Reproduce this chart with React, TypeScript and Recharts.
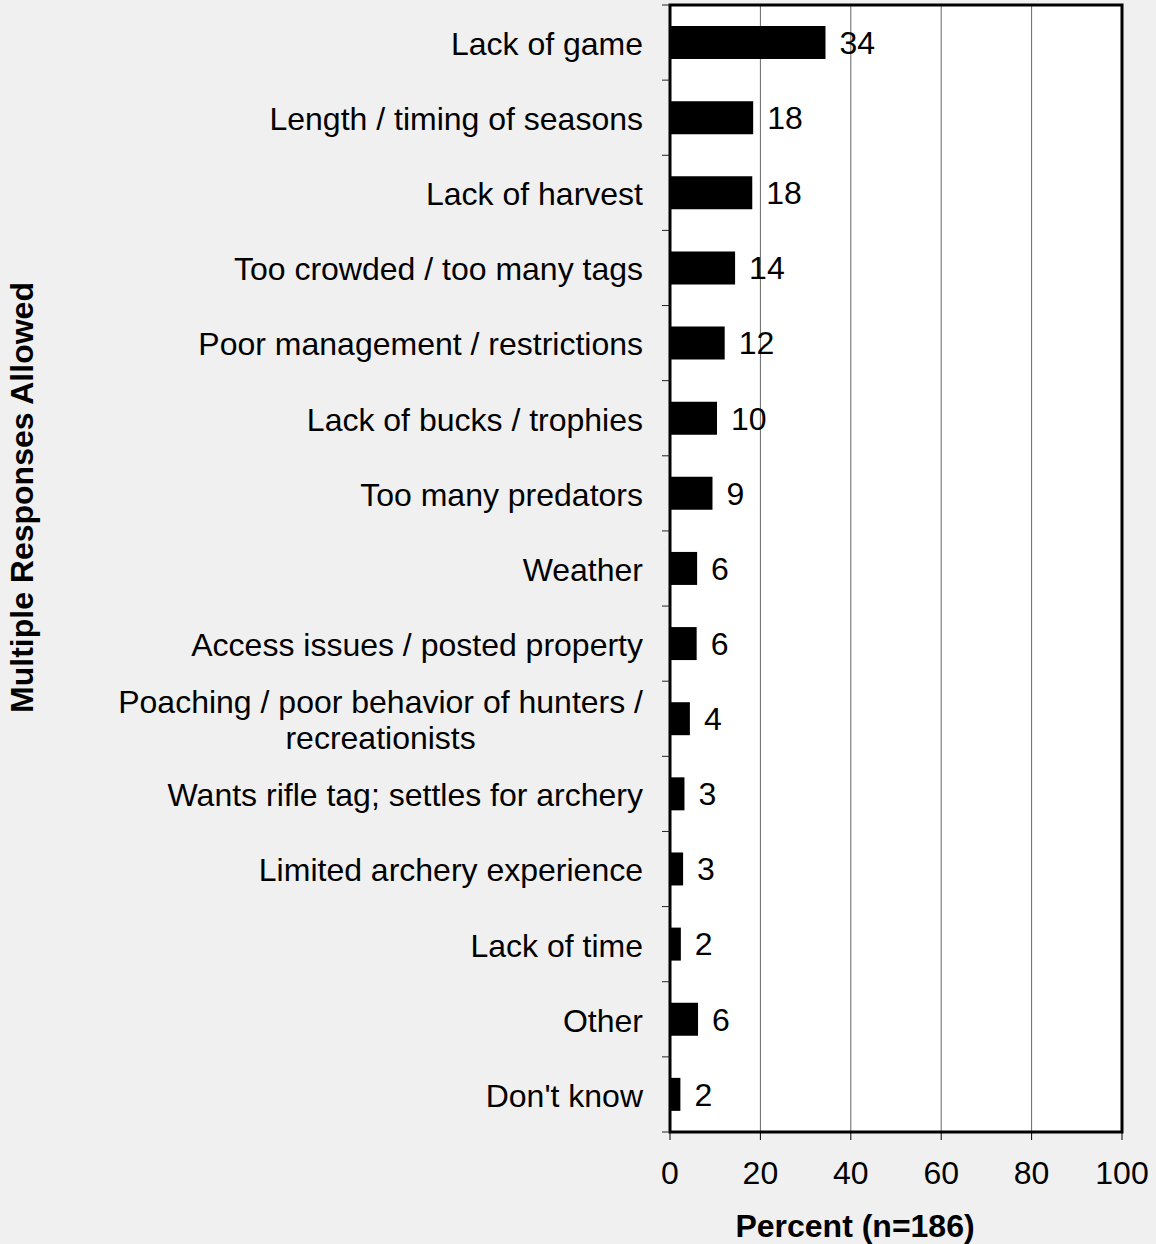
import { BarChart, Bar, XAxis, YAxis, CartesianGrid, LabelList, Label, ReferenceArea } from "recharts";

const categories = [
  "Lack of game",
  "Length / timing of seasons",
  "Lack of harvest",
  "Too crowded / too many tags",
  "Poor management / restrictions",
  "Lack of bucks / trophies",
  "Too many predators",
  "Weather",
  "Access issues / posted property",
  "Poaching / poor behavior of hunters / recreationists",
  "Wants rifle tag; settles for archery",
  "Limited archery experience",
  "Lack of time",
  "Other",
  "Don't know",
];
const percents = [34.4, 18.4, 18.2, 14.4, 12.1, 10.4, 9.4, 6.0, 5.9, 4.4, 3.2, 2.9, 2.4, 6.2, 2.3];
const xTicks = [0, 20, 40, 60, 80, 100];

const data = categories.map((name, i) => ({ name, value: percents[i] }));

const FONT = '"Liberation Sans", Arial, Helvetica, sans-serif';
const FS = 32;
const W = 1156;
const H = 1244;
const MARGIN = { top: 5, right: 34, bottom: 0, left: 0 };
const X_AXIS_H = 112;
const Y_AXIS_W = 670;
const TICK_SIZE = 8;
const TICK_MARGIN = 19;
const PLOT_H = H - MARGIN.top - MARGIN.bottom - X_AXIS_H;
const BAND = PLOT_H / categories.length;

let ctx: CanvasRenderingContext2D | null = null;
const textWidth = (s: string) => {
  if (!ctx) ctx = document.createElement("canvas").getContext("2d");
  if (!ctx) return s.length * FS * 0.5;
  ctx.font = `${FS}px ${FONT}`;
  return ctx.measureText(s).width;
};

const wrap = (label: string, max: number) => {
  const words = label.split(" ");
  const lines: string[] = [];
  let cur = "";
  for (const w of words) {
    const next = cur ? cur + " " + w : w;
    if (cur && textWidth(next) > max) {
      lines.push(cur);
      cur = w;
    } else cur = next;
  }
  if (cur) lines.push(cur);
  return lines;
};

const CategoryTick = (props: any) => {
  const { x, y, payload, index, visibleTicksCount } = props;
  const lines = wrap(String(payload.value), 540);
  const axisX = x + TICK_SIZE + TICK_MARGIN;
  const half = BAND / 2;
  const multi = lines.length > 1;
  const blockW = Math.max(...lines.map(textWidth));
  const tx = multi ? x - blockW / 2 : x;
  return (
    <g>
      <line x1={axisX - TICK_SIZE} x2={axisX} y1={y - half} y2={y - half} stroke="#222" />
      {index === visibleTicksCount - 1 && (
        <line x1={axisX - TICK_SIZE} x2={axisX} y1={y + half} y2={y + half} stroke="#222" />
      )}
      <text
        x={tx}
        y={y + 1}
        textAnchor={multi ? "middle" : "end"}
        fontSize={FS}
        fontFamily={FONT}
        fill="#000"
      >
        {lines.map((l, i) => (
          <tspan key={i} x={tx} dy={i === 0 ? FS * 0.355 - (lines.length - 1) * 18 : 36}>
            {l}
          </tspan>
        ))}
      </text>
    </g>
  );
};

const XTitle = (props: any) => {
  const vb = props.viewBox;
  return (
    <text
      x={vb.x + vb.width / 2 - 41}
      y={vb.y + 105}
      textAnchor="middle"
      fontSize={FS}
      fontWeight="bold"
      fontFamily={FONT}
      fill="#000"
    >
      Percent (n=186)
    </text>
  );
};

const YTitle = (props: any) => {
  const vb = props.viewBox;
  const cx = vb.x + 22;
  const cy = vb.y + vb.height / 2 - 71;
  return (
    <text
      x={cx}
      y={cy}
      transform={`rotate(-90 ${cx} ${cy})`}
      textAnchor="middle"
      dy={FS * 0.355}
      fontSize={FS}
      fontWeight="bold"
      fontFamily={FONT}
      fill="#000"
    >
      Multiple Responses Allowed
    </text>
  );
};

const App = () => (
  <div
    style={{
      position: "absolute",
      left: 0,
      top: 0,
      width: W,
      height: H,
      background: "#f0f0f0",
      fontFamily: FONT,
    }}
  >
    <BarChart width={W} height={H} data={data} layout="vertical" margin={MARGIN}>
      <CartesianGrid horizontal={false} stroke="#666" fill="#fff" fillOpacity={1} />
      <XAxis
        type="number"
        domain={[0, 100]}
        ticks={xTicks}
        height={X_AXIS_H}
        tickSize={TICK_SIZE}
        tickMargin={21}
        tickLine={{ stroke: "#000" }}
        axisLine={{ stroke: "#000", strokeWidth: 2 }}
        tick={{ fontSize: FS, fill: "#000", fontFamily: FONT }}
      >
        <Label content={XTitle} />
      </XAxis>
      <YAxis
        type="category"
        dataKey="name"
        width={Y_AXIS_W}
        interval={0}
        tickSize={TICK_SIZE}
        tickMargin={TICK_MARGIN}
        tickLine={{ stroke: "none" }}
        axisLine={{ stroke: "#000", strokeWidth: 2 }}
        tick={<CategoryTick />}
      >
        <Label content={YTitle} />
      </YAxis>
      <Bar dataKey="value" fill="#000" barSize={33} isAnimationActive={false}>
        <LabelList
          dataKey="value"
          position="right"
          offset={14}
          formatter={(v: any) => Math.round(Number(v))}
          style={{ fontSize: FS, fill: "#000", fontFamily: FONT }}
        />
      </Bar>
      <ReferenceArea
        x1={xTicks[0]}
        x2={xTicks[xTicks.length - 1]}
        fill="none"
        fillOpacity={0}
        stroke="#000"
        strokeWidth={3}
      />
    </BarChart>
  </div>
);

export default App;
